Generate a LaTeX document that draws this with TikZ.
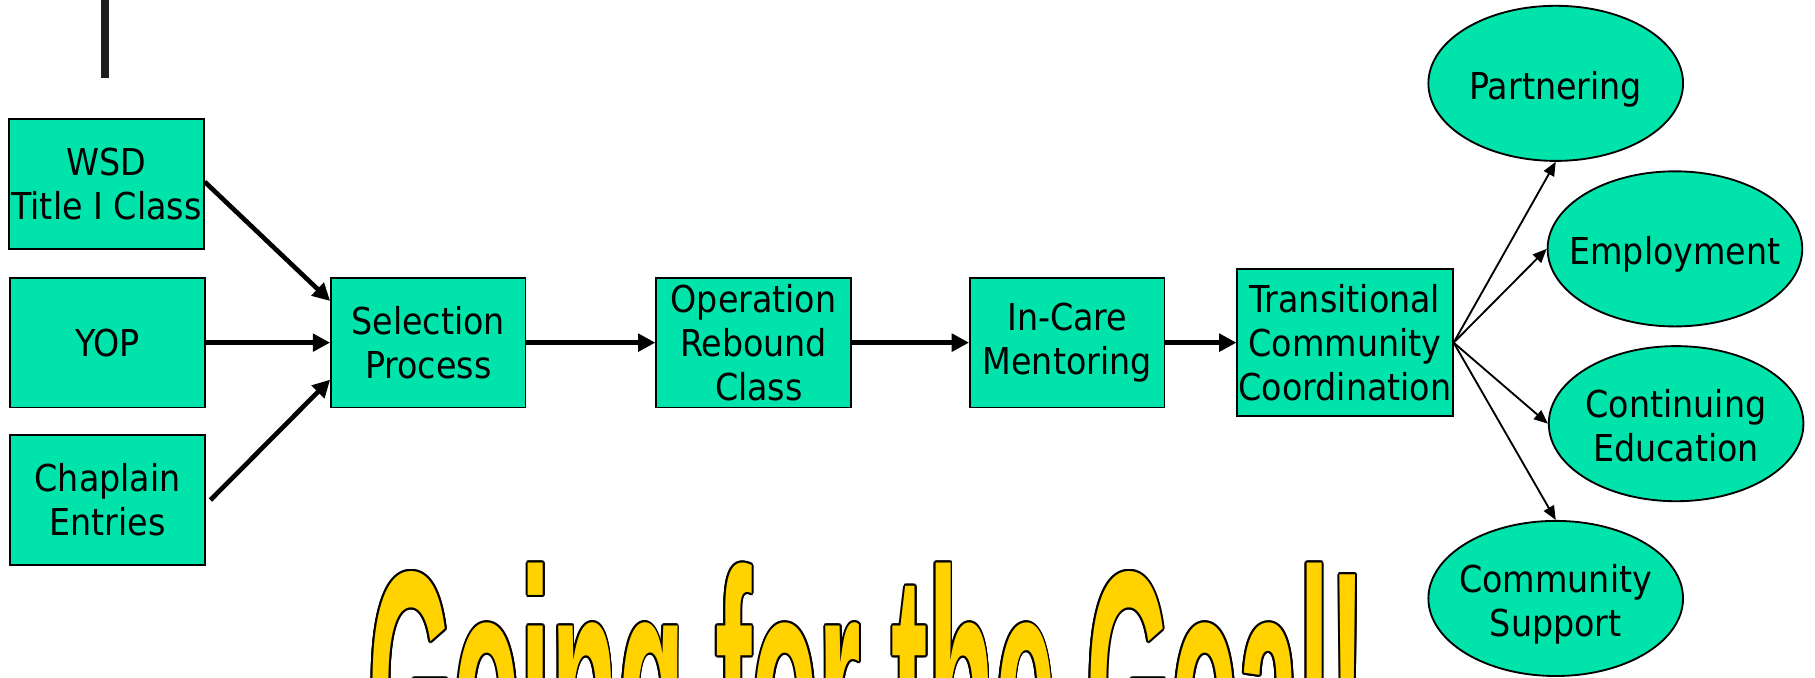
\documentclass[tikz,border=0pt]{standalone}
\usepackage{fontspec}
\setmainfont{DejaVu Sans Condensed}
\newfontfamily\titlefont{Liberation Sans}
\usetikzlibrary{arrows.meta,shapes.geometric}
\definecolor{boxfill}{HTML}{00E3AA}
\definecolor{titleyellow}{HTML}{FFD200}
\definecolor{bardark}{HTML}{1E1E1E}
\newcommand\goaltext{{\titlefont\bfseries\fontsize{47.3pt}{50pt}\selectfont Going for the Goal!}}
\newcommand\ovaltext[1]{\raisebox{-3pt}[\height][\depth]{\makebox[0pt][c]{\begin{tabular}{@{}c@{}}#1\end{tabular}}}}
\tikzset{
  lbl/.style={font=\fontsize{16pt}{19pt}\selectfont, align=center, inner sep=0pt},
  box/.style={lbl, draw=black, fill=boxfill, line width=0.8pt, minimum width=84pt, minimum height=56pt},
  oval/.style={lbl, ellipse, draw=black, fill=boxfill, line width=0.8pt, minimum width=110pt, minimum height=67pt},
  thick arrow/.style={line width=2pt, -{Triangle[length=7.5pt,width=7.5pt]}},
  thin arrow/.style={line width=0.8pt, -{Triangle[length=6pt,width=5pt]}},
  titlestyle/.style={anchor=north west, inner sep=0pt},
}
\begin{document}
\begin{tikzpicture}[x=0.5pt,y=-0.5pt]
\useasboundingbox (0,0) rectangle (1568,585);
% remnant bar
\fill[bardark] (87,0) rectangle (94,67);
% left boxes
\node[box] (wsd) at (92,159) {WSD\\Title I Class};
\node[box] (yop) at (93,296) {YOP};
\node[box] (chap) at (93,432) {Chaplain\\Entries};
% main chain
\node[box] (sel) at (370,296) {Selection\\Process};
\node[box] (oper) at (651,296) {Operation\\Rebound\\\ Class};
\node[box] (incare) at (922,296) {In-Care\\Mentoring};
\node[box, minimum width=93pt, minimum height=63.5pt] (trans) at (1162,296) {Transitional\\Community\\Coordination};
% outcomes
\node[oval] (part) at (1344,72) {\ovaltext{Partnering}};
\node[oval] (empl) at (1447,215) {\ovaltext{Employment}};
\node[oval] (cont) at (1448,366) {\ovaltext{Continuing\\Education}};
\node[oval] (comm) at (1344,517) {\ovaltext{Community\\Support}};
% thick arrows
\draw[thick arrow] ([yshift=1pt]wsd.east) -- ([yshift=18pt]sel.west);
\draw[thick arrow] (yop.east) -- (sel.west);
\draw[thick arrow] ([xshift=2pt]chap.east) -- ([yshift=-16pt]sel.west);
\draw[thick arrow] (sel.east) -- (oper.west);
\draw[thick arrow] (oper.east) -- (incare.west);
\draw[thick arrow] (incare.east) -- (trans.west);
% thin arrows
\draw[thin arrow] (trans.east) -- (part.south);
\draw[thin arrow] (trans.east) -- (empl.west);
\draw[thin arrow] (trans.east) -- (cont.west);
\draw[thin arrow] (trans.east) -- (comm.north);
% title
\coordinate (tpos) at (318,486);
\foreach \a in {0,30,...,330}
  \node[titlestyle, text=black, shift={(\a:1.6)}] at (tpos) {\scalebox{1}[2.93]{\goaltext}};
\node[titlestyle, text=titleyellow] (title) at (tpos) {\scalebox{1}[2.93]{\goaltext}};
\end{tikzpicture}
\end{document}
